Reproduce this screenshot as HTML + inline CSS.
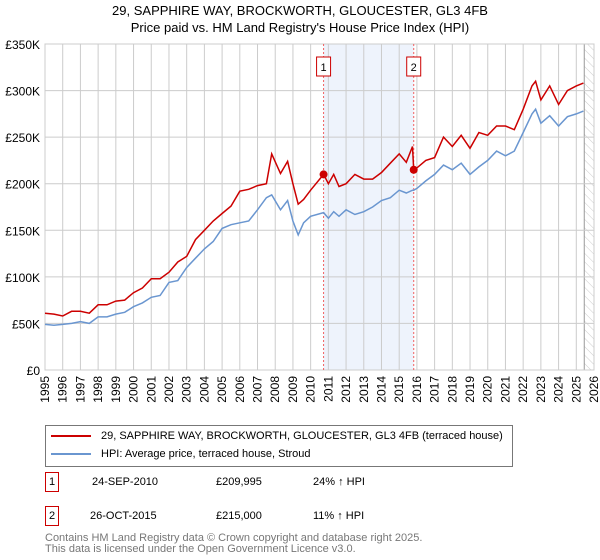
<!DOCTYPE html>
<html><head><meta charset="utf-8"><style>
body{margin:0;background:#fff;font-family:"Liberation Sans","DejaVu Sans",sans-serif;}
#wrap{position:relative;width:600px;height:560px;overflow:hidden;}
.t{position:absolute;font-size:12px;color:#000;white-space:nowrap;}
</style></head><body>
<div id="wrap">
<div class="t" style="left:0;width:600px;text-align:center;top:2px;font-size:13px;line-height:17px;">29, SAPPHIRE WAY, BROCKWORTH, GLOUCESTER, GL3 4FB<br>Price paid vs. HM Land Registry's House Price Index (HPI)</div>
<svg id="chart" width="600" height="420" style="position:absolute;left:0;top:0"></svg>
<div style="position:absolute;left:45px;top:425px;width:466px;height:40px;border:1px solid #777;">
 <div style="position:absolute;left:5px;top:4px;font-size:11px;"><span style="display:inline-block;width:40px;height:2px;background:#cc0000;vertical-align:middle;margin-right:10px"></span>29, SAPPHIRE WAY, BROCKWORTH, GLOUCESTER, GL3 4FB (terraced house)</div>
 <div style="position:absolute;left:5px;top:22px;font-size:11px;"><span style="display:inline-block;width:40px;height:2px;background:#6a96d0;vertical-align:middle;margin-right:10px"></span>HPI: Average price, terraced house, Stroud</div>
</div>
<div>
<div class="t" style="left:45px;top:472px;width:12px;height:18px;border:1px solid #cc0000;text-align:center;line-height:18px;font-size:11px">1</div>
<div class="t" style="left:92px;top:476px;font-size:11px">24-SEP-2010</div>
<div class="t" style="left:216px;top:476px;font-size:11px">£209,995</div>
<div class="t" style="left:313px;top:476px;font-size:11px">24% ↑ HPI</div>
</div>
<div>
<div class="t" style="left:45px;top:506px;width:12px;height:18px;border:1px solid #cc0000;text-align:center;line-height:18px;font-size:11px">2</div>
<div class="t" style="left:90px;top:510px;font-size:11px">26-OCT-2015</div>
<div class="t" style="left:216px;top:510px;font-size:11px">£215,000</div>
<div class="t" style="left:313px;top:510px;font-size:11px">11% ↑ HPI</div>
</div>
<div class="t" style="left:45px;top:533px;font-size:11px;color:#777;line-height:11px">Contains HM Land Registry data © Crown copyright and database right 2025.<br>This data is licensed under the Open Government Licence v3.0.</div>
</div>
<script>
const yearsT=[1995,1995.5,1996,1996.5,1997,1997.5,1998,1998.5,1999,1999.5,2000,2000.5,2001,2001.5,2002,2002.5,2003,2003.5,2004,2004.5,2005,2005.5,2006,2006.5,2007,2007.5,2007.8,2008.3,2008.7,2009,2009.3,2009.6,2010,2010.73,2011,2011.3,2011.6,2012,2012.5,2013,2013.5,2014,2014.5,2015,2015.4,2015.75,2015.82,2016,2016.5,2017,2017.5,2018,2018.5,2019,2019.5,2020,2020.5,2021,2021.5,2022,2022.5,2022.7,2023,2023.5,2024,2024.5,2025,2025.4];
const priceVals=[61,60,58,63,63,61,70,70,74,75,83,88,98,98,105,116,122,140,150,160,168,176,192,194,198,200,232,211,224,200,178,183,193,210,200,210,197,200,210,205,205,212,222,232,223,240,215,217,225,228,250,240,252,238,255,252,262,262,258,280,305,310,290,305,285,300,305,308];
const hpiVals=[49,48,49,50,52,50,57,57,60,62,68,72,78,80,94,96,110,120,130,138,152,156,158,160,172,185,188,172,182,160,145,158,165,169,163,170,165,172,167,170,175,182,185,193,190,193,193,195,203,210,220,215,222,210,218,225,235,230,235,255,275,280,265,273,262,272,275,278];
const yTicks=[0,50,100,150,200,250,300,350];
const yTickLabels=["£0","£50K","£100K","£150K","£200K","£250K","£300K","£350K"];
const xYears=[1995,1996,1997,1998,1999,2000,2001,2002,2003,2004,2005,2006,2007,2008,2009,2010,2011,2012,2013,2014,2015,2016,2017,2018,2019,2020,2021,2022,2023,2024,2025,2026];
const sales=[{n:"1",t:2010.73,v:209.995},{n:"2",t:2015.82,v:215}];
const X=t=>45+(t-1995)*(594-45)/31;
const Y=v=>370-v*(370-44)/350;
const svg=document.getElementById('chart');const NS="http://www.w3.org/2000/svg";
function mk(tag,a,p){const e=document.createElementNS(NS,tag);for(const k in a)e.setAttribute(k,a[k]);(p||svg).appendChild(e);return e;}
const band=mk('rect',{x:X(sales[0].t),y:44,width:X(sales[1].t)-X(sales[0].t),height:326,fill:'#eef3fc'});


const defs=mk('defs',{});const pat=mk('pattern',{id:'h',width:6,height:6,patternUnits:'userSpaceOnUse',patternTransform:'rotate(-45)'},defs);mk('line',{x1:0,y1:0,x2:0,y2:6,stroke:'#ccc','stroke-width':1},pat);
const hatch=mk('rect',{x:X(2025.45),y:44,width:594-X(2025.45),height:326,fill:'url(#h)'});


mk('line',{x1:X(2025.45),y1:44,x2:X(2025.45),y2:370,stroke:'#999'});
yTicks.forEach((v,i)=>{
 const g=mk('line',{x1:45,x2:594,y1:Y(v),y2:Y(v),stroke:'#ccc'});
 
 
 const t=mk('text',{x:40,y:Y(v)+5,'text-anchor':'end','font-size':12,fill:'#000'});t.textContent=yTickLabels[i];
 
 
});
xYears.forEach(y=>{
 const g=mk('line',{x1:X(y),x2:X(y),y1:44,y2:370,stroke:'#ccc'});
 
 
 const t=mk('text',{x:0,y:0,'text-anchor':'end','font-size':12,fill:'#000',transform:`translate(${X(y)+4},376) rotate(-90)`});t.textContent=y;
 
 
});
mk('rect',{x:45,y:44,width:549,height:326,fill:'none',stroke:'#ccc'});
sales.forEach(s=>{
 const l=mk('line',{x1:X(s.t),x2:X(s.t),y1:44,y2:370,stroke:'#f06060','stroke-dasharray':'2,2'});
 
 
 const b=mk('rect',{x:X(s.t)-7,y:57,width:14,height:19,fill:'#fff',stroke:'#cc0000'});
 
 
 const t=mk('text',{x:X(s.t),y:71,'text-anchor':'middle','font-size':11});t.textContent=s.n;
});
function line(vals,col,name){
 const d=yearsT.map((t,i)=>(i?'L':'M')+X(t).toFixed(1)+','+Y(vals[i]).toFixed(1)).join('');
 const p=mk('path',{d:d,fill:'none',stroke:col,'stroke-width':1.5});
 
 
}
line(hpiVals,'#6a96d0','hpi-line');
line(priceVals,'#cc0000','price-line');
sales.forEach(s=>{
 const c=mk('circle',{cx:X(s.t),cy:Y(s.v),r:4,fill:'#cc0000'});
 
 
});
</script>
</body></html>
